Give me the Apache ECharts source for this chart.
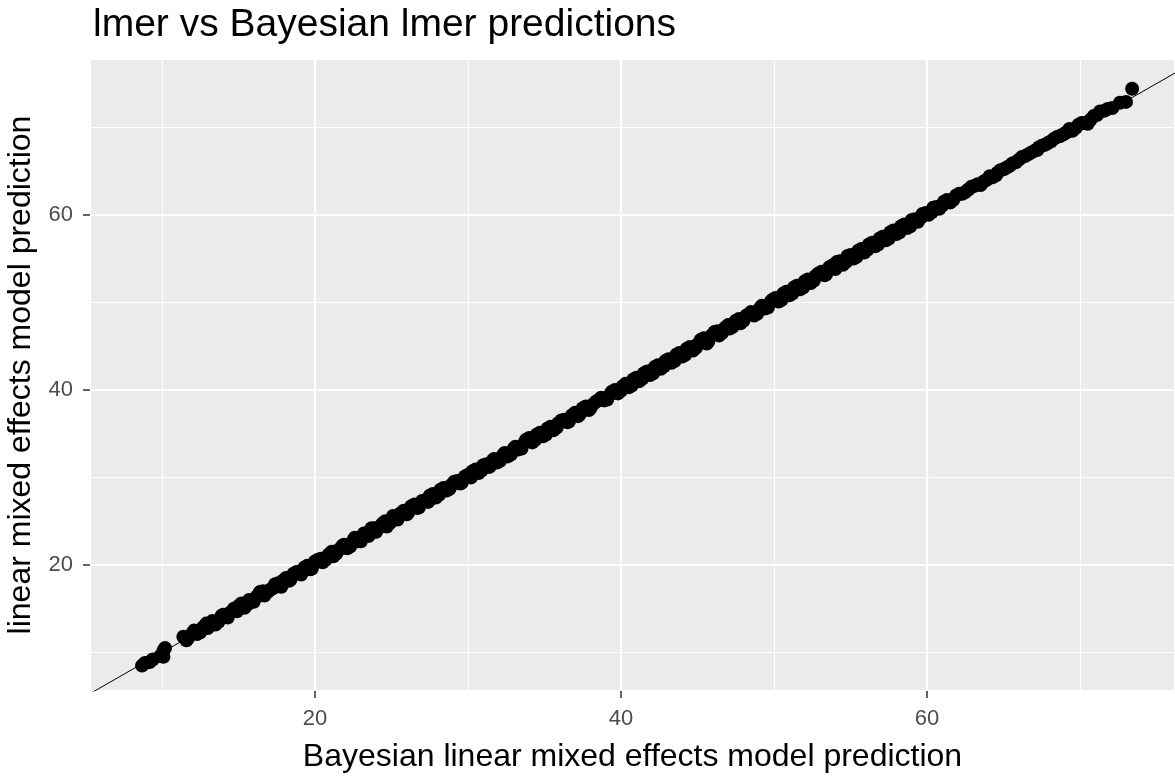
<!DOCTYPE html>
<html>
<head>
<meta charset="utf-8">
<script src="https://cdn.jsdelivr.net/npm/echarts@6/dist/echarts.min.js"></script>
<style>
  html, body { margin: 0; padding: 0; background: #fff; }
  #chart { width: 1175px; height: 778px; }
</style>
</head>
<body>
<div id="chart"></div>
<script>
// predictions (x = Bayesian lmer, y = lmer)
const bayesPred = [
  8.7, 8.9, 9.2, 9.4, 9.9, 10.1, 10.1, 10.2,
  11.4, 11.7, 12.0, 12.3, 12.7, 13.0, 13.3, 13.7, 14.0, 14.3,
  14.7, 15.0, 15.4, 15.7, 16.0, 16.4, 16.7, 17.1, 17.4, 17.8,
  18.1, 18.4, 18.8, 19.1, 19.5, 19.8, 20.2, 20.5, 20.9, 21.2,
  21.6, 21.9, 22.3, 22.6, 23.0, 23.3, 23.7, 24.0, 24.4, 24.7,
  25.1, 25.4, 25.8, 26.1, 26.5, 26.8, 27.2, 27.5, 27.9, 28.2,
  28.6, 28.9, 29.3, 29.6, 30.0, 30.3, 30.7, 31.0, 31.4, 31.7,
  32.1, 32.4, 32.8, 33.1, 33.5, 33.8, 34.2, 34.5, 34.9, 35.2,
  35.6, 35.9, 36.3, 36.6, 37.0, 37.3, 37.7, 38.0, 38.4, 38.7,
  39.1, 39.4, 39.8, 40.1, 40.5, 40.8, 41.2, 41.5, 41.9, 42.2,
  42.6, 42.9, 43.3, 43.6, 44.0, 44.3, 44.7, 45.0, 45.4, 45.7,
  46.1, 46.4, 46.8, 47.1, 47.5, 47.8, 48.2, 48.5, 48.9, 49.2,
  49.6, 49.9, 50.3, 50.6, 51.0, 51.3, 51.7, 52.0, 52.4, 52.7,
  53.1, 53.4, 53.8, 54.1, 54.5, 54.8, 55.2, 55.5, 55.9, 56.2,
  56.6, 56.9, 57.3, 57.6, 58.0, 58.3, 58.7, 59.0, 59.4, 59.7,
  60.1, 60.4, 60.8, 61.1, 61.5, 61.9, 62.3, 62.7, 63.1, 63.5,
  63.9, 64.3, 64.6, 65.0, 65.4, 65.8, 66.2, 66.6, 67.0, 67.3,
  67.7, 68.1, 68.5, 68.9, 69.3, 69.7, 70.1, 70.5, 70.9, 71.3,
  71.6, 72.1, 72.6, 73.0, 73.4,
  11.6, 12.1, 12.5, 12.9, 13.5, 13.9, 14.5, 14.9, 15.2, 15.6,
  16.2, 16.6, 16.9, 17.3, 17.6, 17.9, 18.3, 18.6, 19.0, 19.3,
  19.7, 20.0, 20.4, 20.7, 21.1, 21.4, 21.8, 22.1, 22.5, 22.8,
  23.2, 23.5, 23.9, 24.2, 24.6, 24.9, 25.3, 25.6, 26.0, 26.3,
  26.7, 27.0, 27.4, 27.7, 28.1, 28.4, 28.8, 29.1, 29.5, 29.8,
  30.2, 30.5, 30.9, 31.2, 31.6, 31.9, 32.3, 32.6, 33.0, 33.3,
  33.7, 34.0, 34.4, 34.7, 35.1, 35.4, 35.8, 36.1, 36.5, 36.8,
  37.2, 37.5, 37.9, 38.2, 38.6, 38.9, 39.3, 39.6, 40.0, 40.3,
  40.7, 41.0, 41.4, 41.7, 42.1, 42.4, 42.8, 43.1, 43.5, 43.8,
  44.2, 44.5, 44.9, 45.2, 45.6, 45.9, 46.3, 46.6, 47.0, 47.3,
  47.7, 48.0, 48.4, 48.7, 49.1, 49.4, 49.8, 50.1, 50.5, 50.8,
  51.2, 51.5, 51.9, 52.2, 52.6, 52.9, 53.3, 53.6, 54.0, 54.3,
  54.7, 55.0, 55.4, 55.7, 56.1, 56.4, 56.8, 57.1, 57.5, 57.8,
  58.2, 58.5, 58.9, 59.2, 59.6, 59.9, 60.3, 60.6, 61.0, 61.3,
  61.7, 62.1, 62.5, 62.9, 63.3, 63.7, 64.1, 64.5, 64.8, 65.2,
  65.6, 66.0, 66.4, 66.8, 67.2, 67.5, 67.9, 68.3, 68.7, 69.1,
  69.5, 69.9, 70.3, 70.7, 71.1, 71.8
];
const lmerPred = [
  8.5, 8.8, 8.9, 9.2, 9.6, 9.5, 10.2, 10.5,
  11.8, 11.6, 12.2, 12.1, 12.9, 12.8, 13.6, 13.5, 14.3, 14.0,
  15.0, 15.3, 15.1, 16.0, 15.8, 16.9, 16.5, 17.2, 17.8, 17.5,
  18.5, 18.3, 19.2, 18.9, 19.9, 19.6, 20.6, 20.3, 21.2, 21.0,
  21.8, 22.3, 22.1, 23.1, 22.7, 23.6, 24.2, 23.8, 24.7, 24.4,
  25.6, 25.2, 26.2, 26.0, 26.9, 26.6, 27.4, 27.9, 27.7, 28.6,
  28.5, 29.1, 29.6, 29.4, 30.3, 30.7, 30.5, 31.4, 31.2, 32.1,
  31.9, 32.8, 32.6, 33.5, 33.3, 34.3, 34.0, 34.9, 34.7, 35.6,
  35.4, 36.2, 36.6, 36.4, 37.4, 37.2, 38.1, 37.9, 38.7, 39.1,
  38.9, 39.8, 39.6, 40.4, 40.3, 41.2, 41.0, 41.9, 41.7, 42.6,
  42.4, 43.3, 43.1, 44.0, 43.8, 44.7, 44.5, 45.2, 45.9, 45.5,
  46.6, 46.2, 47.1, 47.0, 47.9, 47.6, 48.5, 48.9, 48.7, 49.6,
  49.4, 50.3, 50.1, 51.0, 50.8, 51.7, 51.5, 52.4, 52.2, 53.0,
  53.5, 53.2, 54.2, 54.6, 54.3, 55.3, 55.0, 55.9, 55.7, 56.6,
  56.4, 57.3, 57.1, 58.0, 57.8, 58.7, 58.5, 59.4, 59.2, 60.1,
  60.0, 60.8, 60.7, 61.5, 61.4, 62.2, 62.4, 62.9, 63.3, 63.4,
  64.0, 64.3, 64.8, 65.2, 65.6, 66.0, 66.6, 66.9, 67.3, 67.7,
  68.0, 68.4, 68.9, 69.2, 69.8, 69.9, 70.5, 70.4, 71.3, 71.8,
  71.9, 72.2, 72.8, 72.9, 74.4,
  11.4, 12.5, 12.3, 13.3, 13.2, 14.2, 14.6, 14.7, 15.6, 15.5,
  16.4, 17.0, 16.9, 17.4, 17.9, 18.2, 18.2, 19.0, 19.0, 19.7,
  19.5, 20.4, 20.7, 20.6, 21.5, 21.3, 22.2, 21.9, 22.8, 22.7,
  23.6, 23.3, 24.2, 24.3, 25.0, 24.8, 25.5, 25.9, 25.8, 26.7,
  26.5, 27.3, 27.2, 28.1, 28.0, 28.8, 28.7, 29.5, 29.3, 30.1,
  30.0, 30.9, 30.8, 31.5, 31.9, 31.7, 32.6, 32.4, 33.3, 33.2,
  34.0, 34.5, 34.3, 35.1, 34.9, 35.8, 35.7, 36.5, 36.3, 37.1,
  37.0, 37.9, 37.7, 38.4, 38.9, 38.8, 39.5, 40.0, 39.9, 40.7,
  40.5, 41.4, 41.3, 42.1, 41.9, 42.8, 42.7, 43.5, 43.3, 44.2,
  44.0, 44.9, 44.8, 45.7, 45.3, 46.2, 46.7, 46.5, 47.4, 47.2,
  48.1, 47.9, 48.7, 48.5, 49.4, 49.3, 50.1, 50.5, 50.3, 51.2,
  51.0, 51.9, 51.7, 52.6, 52.5, 53.3, 53.1, 54.0, 53.8, 54.7,
  54.6, 55.4, 55.2, 56.1, 56.0, 56.8, 56.6, 57.5, 57.3, 58.2,
  58.0, 58.9, 58.7, 59.5, 59.7, 60.2, 60.3, 60.9, 61.1, 61.7,
  61.7, 62.4, 62.6, 63.2, 63.5, 63.8, 64.4, 64.5, 65.1, 65.4,
  65.9, 66.3, 66.7, 67.1, 67.4, 67.9, 68.2, 68.7, 69.0, 69.4,
  69.6, 70.3, 70.5, 70.9, 71.4, 72.1
];
// reference line y = x
const identityLine = [[0, 0], [100, 100]];

const xRange = [5.3, 76.2];
const yRange = [5.6, 77.8];

const points = bayesPred.map((v, i) => [v, lmerPred[i]]);

const txt = '#4D4D4D';
const font = 'Liberation Sans, Arial, sans-serif';

// two axes per direction: one draws the thin minor grid (every 10),
// the other the major grid, ticks and labels (every 20)
function makeAxis(range, major, pos, extra) {
  return Object.assign({
    type: 'value',
    position: pos,
    offset: 0,
    min: range[0],
    max: range[1],
    splitNumber: major ? 4 : 7,
    axisLine: { show: false },
    axisTick: { show: major, length: 7, lineStyle: { color: '#333', width: 1.5 } },
    axisLabel: {
      show: major, color: txt, fontSize: 22, fontFamily: font, margin: 17,
      showMinLabel: false, showMaxLabel: false,
      formatter: v => (v % 20 === 0 ? v : '')
    },
    splitLine: { show: true, lineStyle: { color: '#FFFFFF', width: major ? 2.2 : 1.1 } }
  }, extra || {});
}

const chart = echarts.init(document.getElementById('chart'));
chart.setOption({
  animation: false,
  title: {
    text: 'lmer vs Bayesian lmer predictions',
    left: 88, top: 1,
    textStyle: { color: '#000', fontSize: 39, fontWeight: 'normal', fontFamily: font }
  },
  grid: {
    left: 90, right: 0, top: 59, bottom: 87,
    outerBoundsMode: 'none',
    containLabel: false,
    show: true, backgroundColor: '#EBEBEB', borderWidth: 0
  },
  xAxis: [
    makeAxis(xRange, false, 'bottom'),
    makeAxis(xRange, true, 'bottom', {
      name: 'Bayesian linear mixed effects model prediction',
      nameLocation: 'middle', nameGap: 50,
      nameTextStyle: { color: '#000', fontSize: 32, fontFamily: font }
    })
  ],
  yAxis: [
    makeAxis(yRange, false, 'left'),
    makeAxis(yRange, true, 'left', {
      name: 'linear mixed effects model prediction',
      nameLocation: 'middle', nameGap: 49,
      nameTextStyle: { color: '#000', fontSize: 32, fontFamily: font }
    })
  ],
  series: [
    {
      type: 'scatter',
      xAxisIndex: 1, yAxisIndex: 1,
      data: points,
      symbolSize: 14,
      itemStyle: { color: '#000', opacity: 1 },
      z: 3
    },
    {
      type: 'line',
      xAxisIndex: 1, yAxisIndex: 1,
      data: identityLine,
      showSymbol: false,
      clip: true,
      lineStyle: { color: '#000', width: 1 },
      z: 4
    }
  ]
});
</script>
</body>
</html>
